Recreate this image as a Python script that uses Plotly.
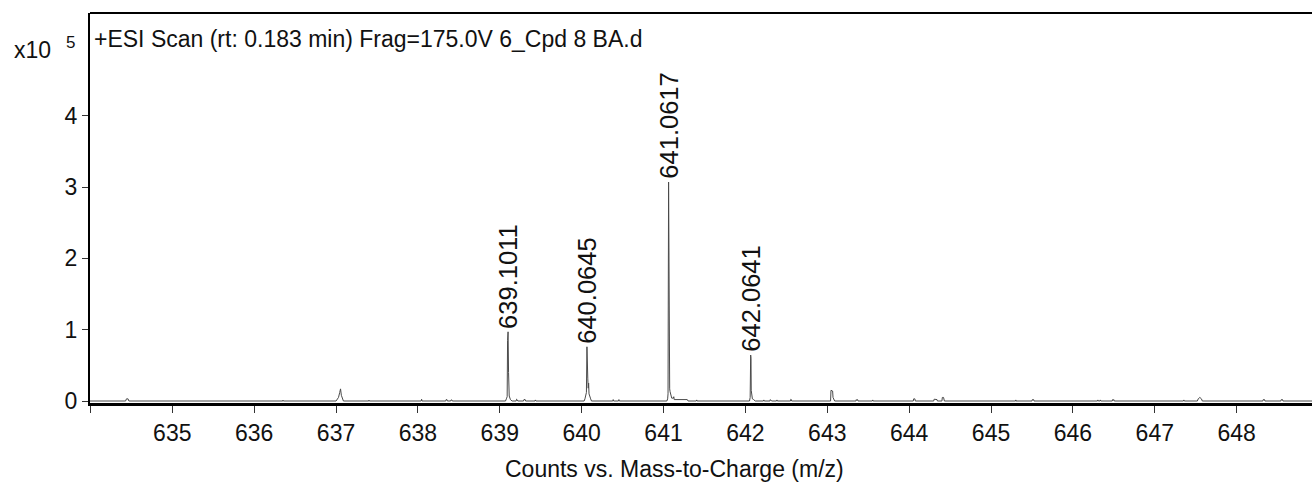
import plotly.graph_objects as go

# Profile spectrum (m/z, counts in units of 1e5)
mz = [
    633.99, 634.43, 634.44, 634.46, 634.47,
    636.35, 636.352, 636.356,
    637.00, 637.03, 637.045, 637.055, 637.065, 637.08, 637.09,
    637.40, 637.402, 637.406,
    638.04, 638.045, 638.05,
    638.34, 638.345, 638.355, 638.36,
    638.40, 638.405, 638.415, 638.42,
    639.07, 639.08, 639.09, 639.095, 639.1011, 639.107, 639.11, 639.115, 639.13, 639.15,
    639.20, 639.205, 639.215, 639.22,
    639.29, 639.295, 639.31, 639.315,
    639.43, 639.435, 639.44,
    640.03, 640.04, 640.05, 640.058, 640.0645, 640.068, 640.075, 640.08, 640.085, 640.09,
    640.10, 640.11, 640.12,
    640.38, 640.385, 640.39,
    640.45, 640.455, 640.46,
    641.04, 641.05, 641.055, 641.0617, 641.066, 641.07, 641.075, 641.08, 641.09, 641.10,
    641.12, 641.125, 641.13, 641.15, 641.16, 641.17, 641.18, 641.19, 641.20, 641.21,
    641.22, 641.23, 641.24, 641.25, 641.26, 641.27, 641.28, 641.29, 641.30,
    641.40, 641.405, 641.41,
    642.05, 642.058, 642.0641, 642.068, 642.071, 642.075, 642.08, 642.085, 642.10, 642.12,
    642.22, 642.225, 642.23,
    642.30, 642.305, 642.31, 642.315, 642.32,
    642.38, 642.385, 642.39,
    642.55, 642.555, 642.56, 642.565,
    643.04, 643.045, 643.05, 643.065, 643.07, 643.08, 643.09,
    643.35, 643.355, 643.36, 643.37, 643.375,
    643.55, 643.555, 643.56,
    644.05, 644.055, 644.07, 644.075,
    644.30, 644.305, 644.33, 644.34, 644.345, 644.40, 644.405, 644.42, 644.43,
    645.30, 645.302, 645.305,
    645.50, 645.505, 645.52, 645.525,
    646.30, 646.305, 646.31, 646.33, 646.335, 646.34,
    646.48, 646.485, 646.49, 646.50, 646.505,
    647.35, 647.355, 647.36,
    647.52, 647.53, 647.55, 647.57, 647.58,
    648.32, 648.325, 648.34, 648.345,
    648.54, 648.545, 648.56, 648.565,
    648.92,
]
counts = [
    0.0, 0.0, 0.03, 0.03, 0.0,
    0.0, 0.012, 0.0,
    0.0, 0.05, 0.12, 0.17, 0.08, 0.02, 0.0,
    0.0, 0.012, 0.0,
    0.0, 0.025, 0.0,
    0.0, 0.02, 0.02, 0.0,
    0.0, 0.015, 0.015, 0.0,
    0.0, 0.03, 0.06, 0.85, 0.97, 0.40, 0.08, 0.07, 0.02, 0.0,
    0.0, 0.025, 0.015, 0.0,
    0.0, 0.02, 0.02, 0.0,
    0.0, 0.015, 0.0,
    0.0, 0.03, 0.08, 0.12, 0.76, 0.35, 0.31, 0.18, 0.25, 0.10,
    0.05, 0.03, 0.0,
    0.0, 0.02, 0.0,
    0.0, 0.02, 0.0,
    0.0, 0.03, 0.10, 3.07, 1.65, 0.25, 0.17, 0.13, 0.05, 0.04,
    0.04, 0.06, 0.02, 0.02, 0.03, 0.02, 0.03, 0.02, 0.025, 0.02,
    0.03, 0.02, 0.025, 0.02, 0.03, 0.02, 0.025, 0.02, 0.0,
    0.0, 0.015, 0.0,
    0.0, 0.05, 0.645, 0.60, 0.15, 0.12, 0.05, 0.03, 0.02, 0.0,
    0.0, 0.015, 0.0,
    0.0, 0.02, 0.01, 0.02, 0.0,
    0.0, 0.015, 0.0,
    0.0, 0.025, 0.02, 0.0,
    0.0, 0.15, 0.15, 0.14, 0.05, 0.02, 0.0,
    0.0, 0.02, 0.01, 0.02, 0.0,
    0.0, 0.015, 0.0,
    0.0, 0.03, 0.03, 0.0,
    0.0, 0.025, 0.025, 0.02, 0.0, 0.0, 0.05, 0.05, 0.0,
    0.0, 0.015, 0.0,
    0.0, 0.02, 0.02, 0.0,
    0.0, 0.015, 0.0, 0.0, 0.015, 0.0,
    0.0, 0.02, 0.01, 0.02, 0.0,
    0.0, 0.015, 0.0,
    0.0, 0.03, 0.05, 0.03, 0.0,
    0.0, 0.02, 0.02, 0.0,
    0.0, 0.02, 0.02, 0.0,
    0.0,
]

# Labelled peaks
peak_labels = ["639.1011", "640.0645", "641.0617", "642.0641"]

x_tickvals = list(range(634, 649))
x_ticktext = [""] + [str(v) for v in range(635, 649)]
y_tickvals = [0, 1, 2, 3, 4]

FONT = "Liberation Sans, Arial, sans-serif"
INK = "#111"

fig = go.Figure()
fig.add_trace(go.Scatter(
    x=mz, y=counts, mode="lines",
    line=dict(color="#4a4a4a", width=1),
    hoverinfo="skip", showlegend=False,
))

for lab in peak_labels:
    px = float(lab)
    py = counts[mz.index(px)]
    fig.add_annotation(
        x=px, y=py, text=lab, showarrow=False, textangle=-90,
        xanchor="center", yanchor="bottom", yshift=1,
        font=dict(family=FONT, size=25.5, color=INK),
    )

fig.add_annotation(
    x=0, y=1, xref="paper", yref="paper", xanchor="left", yanchor="top",
    xshift=2, yshift=-11, showarrow=False,
    text="+ESI Scan (rt: 0.183 min) Frag=175.0V 6_Cpd 8 BA.d",
    font=dict(family=FONT, size=23, color=INK),
)
# axis title, sitting left of the plot-area centre
fig.add_annotation(
    x=0.478, y=0, xref="paper", yref="paper", xanchor="center", yanchor="top",
    yshift=-51, showarrow=False, text="Counts vs. Mass-to-Charge (m/z)",
    font=dict(family=FONT, size=23, color=INK),
)
# scale exponent beside the y axis
fig.add_annotation(
    x=0, y=1, xref="paper", yref="paper", xanchor="left", yanchor="top",
    xshift=-78, yshift=-22, showarrow=False, text="x10",
    font=dict(family=FONT, size=23, color=INK),
)
fig.add_annotation(
    x=0, y=1, xref="paper", yref="paper", xanchor="left", yanchor="top",
    xshift=-26, yshift=-18, showarrow=False, text="5",
    font=dict(family=FONT, size=17, color=INK),
)
fig.add_shape(type="line", xref="paper", yref="paper", x0=0, x1=1, y0=1, y1=1,
              line=dict(color="#000", width=2))

fig.update_layout(
    width=1312, height=485,
    margin=dict(l=90, r=0, t=13, b=82),
    paper_bgcolor="white", plot_bgcolor="white",
    font=dict(family=FONT, size=23, color=INK),
    xaxis=dict(
        range=[633.995, 648.92], tickvals=x_tickvals, ticktext=x_ticktext,
        showline=True, linecolor="#000", linewidth=3,
        ticks="outside", ticklen=7, tickwidth=1, tickcolor="#333",
        showgrid=False, zeroline=False,
        tickfont=dict(family=FONT, size=23),
    ),
    yaxis=dict(
        range=[-0.028, 5.44], tickvals=y_tickvals,
        showline=True, linecolor="#000", linewidth=2,
        ticks="outside", ticklen=6, tickwidth=1, tickcolor="#333",
        showgrid=False, zeroline=False,
        tickfont=dict(family=FONT, size=23),
    ),
)

fig.write_html("out.html")
